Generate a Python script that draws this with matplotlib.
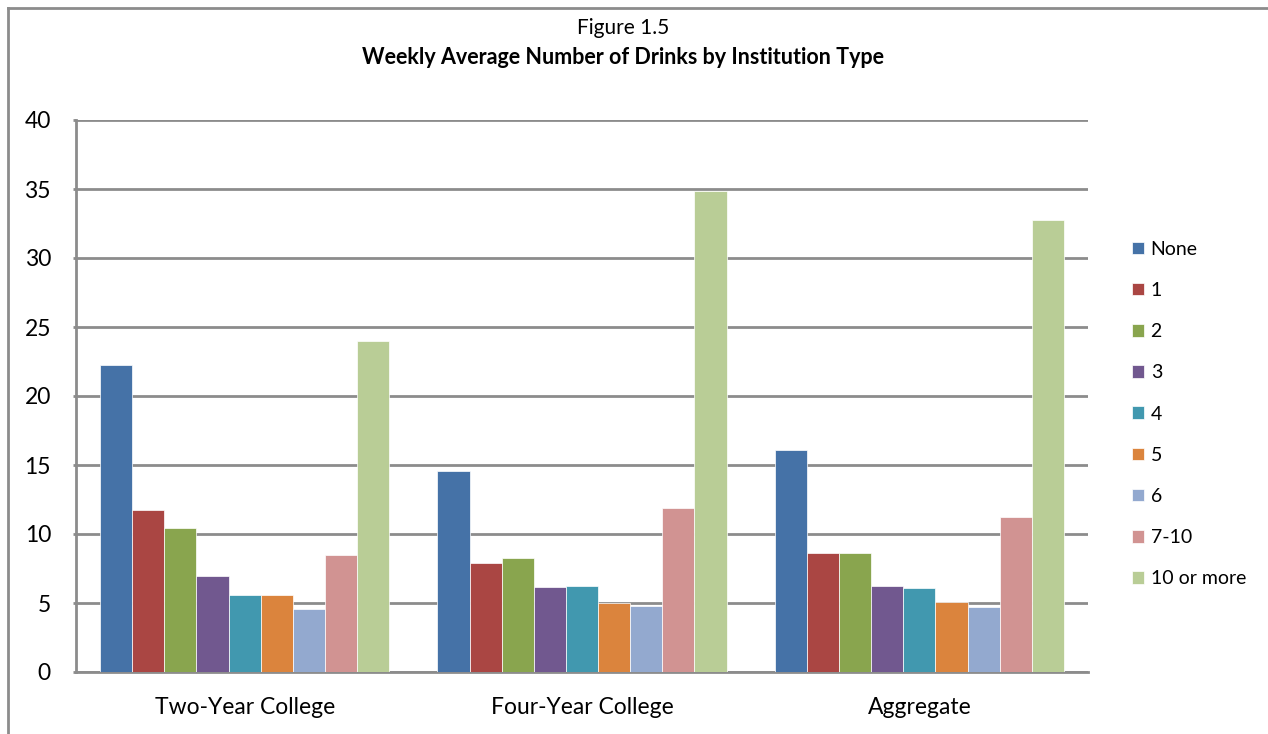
import matplotlib
matplotlib.use("Agg")
import matplotlib.pyplot as plt
import numpy as np
from matplotlib.lines import Line2D

plt.rcParams['font.family'] = ['Lato', 'DejaVu Sans']

categories = ["Two-Year College", "Four-Year College", "Aggregate"]
series_names = ["None", "1", "2", "3", "4", "5", "6", "7-10", "10 or more"]
s_none = [22.25, 14.57, 16.07]
s_1 = [11.72, 7.93, 8.65]
s_2 = [10.46, 8.26, 8.65]
s_3 = [6.93, 6.14, 6.26]
s_4 = [5.56, 6.21, 6.09]
s_5 = [5.56, 5.03, 5.10]
s_6 = [4.59, 4.81, 4.74]
s_7_10 = [8.50, 11.88, 11.21]
s_10plus = [23.96, 34.83, 32.73]
series_values = [s_none, s_1, s_2, s_3, s_4, s_5, s_6, s_7_10, s_10plus]
colors = ["#4572A7", "#AA4643", "#89A54E", "#71588F", "#4198AF",
          "#DB843D", "#93A9CF", "#D19392", "#B9CD96"]
yticks = [0, 5, 10, 15, 20, 25, 30, 35, 40]

W, H = 1268, 734
fig = plt.figure(figsize=(W / 100, H / 100), dpi=100)
ax = fig.add_axes([76 / W, 1 - 672 / H, (1088 - 76) / W, (672 - 120) / H])

n = len(series_names)
group = n / (n + 1.5)
bw = group / n
x = np.arange(len(categories))
for i, (name, vals, c) in enumerate(zip(series_names, series_values, colors)):
    ax.bar(x - group / 2 + bw * (i + 0.5), vals, width=bw, color=c,
           edgecolor='white', linewidth=0.5, label=name, zorder=3)

ax.set_xlim(-0.5, len(categories) - 0.5)
ax.set_ylim(0, 40)
ax.set_yticks(yticks)
ax.set_yticklabels([str(t) for t in yticks], fontsize=16.5)
ax.set_xticks(x)
ax.set_xticklabels(categories, fontsize=16.5)
ax.tick_params(axis='x', length=0, pad=18)
ax.tick_params(axis='y', length=2.5, width=2, color='#8C8C8C', pad=15.5)
ax.yaxis.grid(True, color='#8C8C8C', linewidth=2, zorder=0)
ax.set_axisbelow(True)
for s in ['top', 'right']:
    ax.spines[s].set_visible(False)
ax.spines['left'].set_color('#8C8C8C')
ax.spines['left'].set_linewidth(2)
ax.spines['bottom'].set_color('#8C8C8C')
ax.spines['bottom'].set_linewidth(2)

leg = fig.legend(loc='upper left', bbox_to_anchor=(1124 / W, 1 - 233 / H),
                 frameon=False, fontsize=14, handlelength=0.62, handleheight=0.62,
                 handletextpad=0.35, labelspacing=1.245, borderaxespad=0)

fig.text(623 / W, 1 - 28 / H, "Figure 1.5", ha='center', va='center', fontsize=15)
fig.text(623 / W, 1 - 57 / H, "Weekly Average Number of Drinks by Institution Type",
         ha='center', va='center', fontsize=15.5, fontweight='bold')

# outer chart border
fig.add_artist(Line2D([8 / W, 1], [1 - 8 / H, 1 - 8 / H], color='#8C8C8C', linewidth=2,
                      transform=fig.transFigure))
fig.add_artist(Line2D([8 / W, 8 / W], [0, 1 - 8 / H], color='#8C8C8C', linewidth=2,
                      transform=fig.transFigure))

fig.savefig("out.png", dpi=100)
